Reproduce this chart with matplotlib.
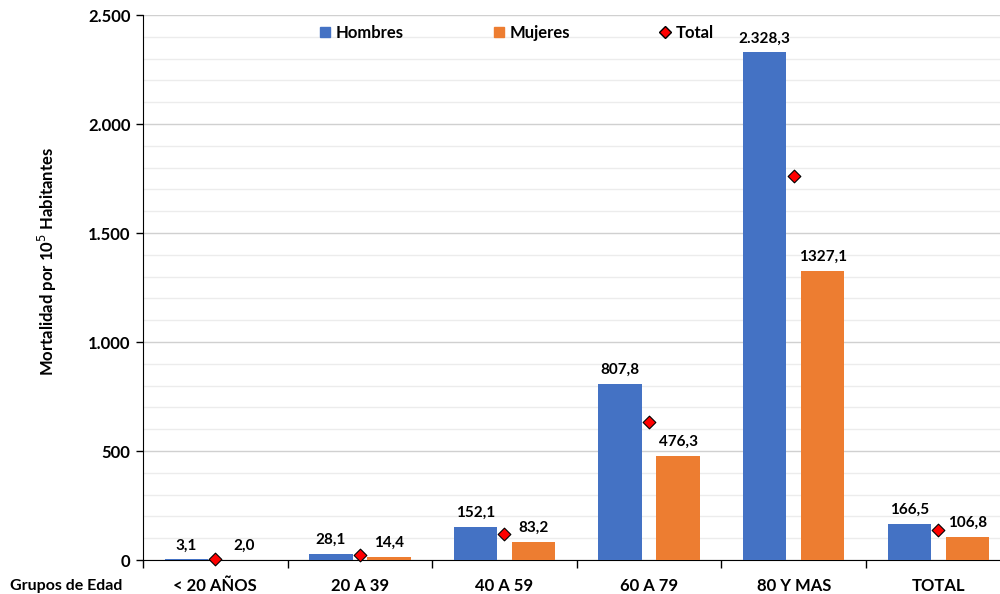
import matplotlib.pyplot as plt
import matplotlib.ticker as mticker
from matplotlib.lines import Line2D
from matplotlib.patches import Patch
import numpy as np

plt.rcParams['font.family'] = ['Lato', 'DejaVu Sans']

grupos = ['< 20 AÑOS', '20 A 39', '40 A 59', '60 A 79', '80 Y MAS', 'TOTAL']
hombres = [3.1, 28.1, 152.1, 807.8, 2328.3, 166.5]
mujeres = [2.0, 14.4, 83.2, 476.3, 1327.1, 106.8]
total = [2.5, 21.0, 118.0, 633.0, 1762.0, 138.0]

azul = '#4472c4'
naranja = '#ed7d31'


def fmt(v, miles=True):
    # coma decimal, punto de miles
    s = f'{v:,.1f}' if miles else f'{v:.1f}'
    return s.replace(',', 'X').replace('.', ',').replace('X', '.')


fig = plt.figure(figsize=(10, 5.94), dpi=100)
ax = fig.add_axes([0.143, 0.0572, 0.8676, 0.9175])

x = np.arange(len(grupos))
off = 0.2
w = 0.3
ax.bar(x - off, hombres, w, color=azul, zorder=3)
ax.bar(x + off, mujeres, w, color=naranja, zorder=3)
ax.scatter(x, total, marker='D', s=42, color='#ff0000', edgecolor='black',
           linewidth=0.8, zorder=5, clip_on=False)

for xi, h, m in zip(x, hombres, mujeres):
    ax.annotate(fmt(h), (xi - off, h), xytext=(0, 5), textcoords='offset points',
                ha='center', va='bottom', fontsize=11, fontweight='bold')
    ax.annotate(fmt(m, miles=False), (xi + off, m), xytext=(0, 5), textcoords='offset points',
                ha='center', va='bottom', fontsize=11, fontweight='bold')

ax.set_xlim(-0.5, 5.5)
ax.set_ylim(0, 2500)
ax.yaxis.set_major_locator(mticker.MultipleLocator(500))
ax.yaxis.set_minor_locator(mticker.MultipleLocator(100))
ax.yaxis.set_major_formatter(mticker.FuncFormatter(lambda v, p: f'{v:,.0f}'.replace(',', '.')))
ax.grid(axis='y', which='major', color='#d0d0d0', linewidth=1, zorder=0)
ax.grid(axis='y', which='minor', color='#ececec', linewidth=1, zorder=0)
ax.tick_params(axis='y', which='minor', length=0)
ax.tick_params(axis='y', which='major', length=5, width=1, labelsize=12, pad=4)

# divisiones entre grupos en el eje x
ax.set_xticks(np.arange(-0.5, 6, 1))
ax.set_xticklabels([])
ax.set_xticks(x, minor=True)
ax.set_xticklabels(grupos, minor=True, fontsize=12, fontweight='bold')
ax.tick_params(axis='x', which='major', length=6, width=1)
ax.tick_params(axis='x', which='minor', length=0, pad=13)
for lab in ax.get_yticklabels():
    lab.set_fontweight('bold')

for s in ['top', 'right']:
    ax.spines[s].set_visible(False)
ax.spines['left'].set_color('black')
ax.spines['bottom'].set_color('black')

ax.set_ylabel('Mortalidad por 10$^5$ Habitantes', fontsize=12, fontweight='bold')
ax.yaxis.set_label_coords(-0.097, 0.547)
fig.text(0.01, 0.013, 'Grupos de Edad', fontsize=11.5, fontweight='bold', ha='left', va='center')

handles = [Patch(color=azul, label='Hombres'),
           Patch(color=naranja, label='Mujeres'),
           Line2D([], [], marker='D', color='none', markerfacecolor='#ff0000',
                  markeredgecolor='black', markersize=6, label='Total')]
leg = ax.legend(handles=handles, loc='center', bbox_to_anchor=(0.431, 0.967), ncol=3,
                frameon=False, fontsize=12, handlelength=0.6, handleheight=0.6,
                handletextpad=0.35, columnspacing=5.4)
for t in leg.get_texts():
    t.set_fontweight('bold')

fig.savefig('out.png', dpi=100)
